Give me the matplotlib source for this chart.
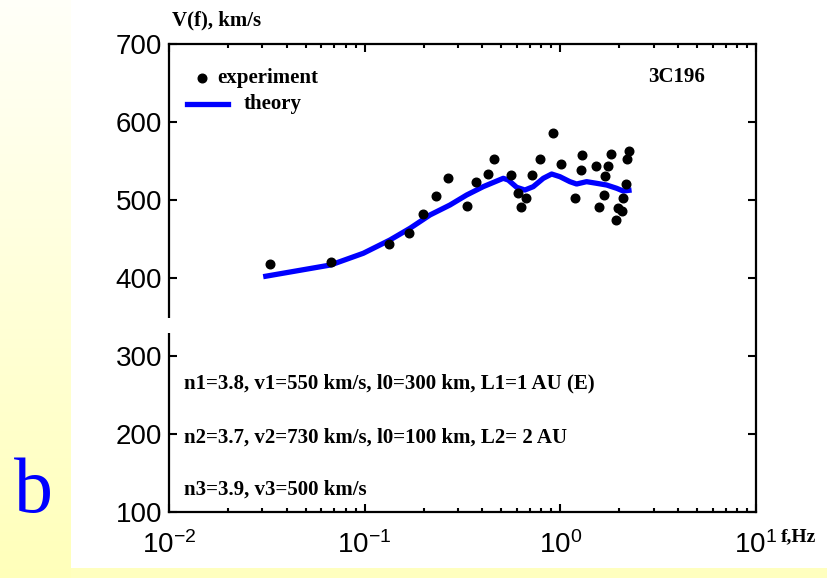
import numpy as np
import matplotlib
matplotlib.use("Agg")
import matplotlib.pyplot as plt
from matplotlib.patches import Rectangle
from matplotlib.lines import Line2D
from matplotlib.ticker import FixedLocator, FuncFormatter, NullFormatter

# ---------------- data ----------------
exp_f = [0.0328, 0.0673, 0.1337, 0.169, 0.1977, 0.2323, 0.2668, 0.334, 0.369,
         0.4246, 0.459, 0.557, 0.605, 0.630, 0.665, 0.718, 0.787, 0.914, 1.007,
         1.191, 1.274, 1.294, 1.514, 1.570, 1.676, 1.690, 1.757, 1.807, 1.923,
         1.963, 2.057, 2.089, 2.157, 2.188, 2.234]
exp_v = [418, 420, 444, 458, 482, 505, 528, 492, 523,
         533, 552, 532, 509, 491, 502, 532, 552, 586, 546,
         503, 538, 558, 544, 491, 506, 531, 544, 559, 475,
         490, 486, 502, 521, 552, 563]

theory_f = [0.0303, 0.0670, 0.0984, 0.1346, 0.1704, 0.2157, 0.2729, 0.332,
            0.4036, 0.5108, 0.542, 0.598, 0.659, 0.727, 0.818, 0.903, 0.995,
            1.119, 1.211, 1.362, 1.532, 1.725, 1.940, 2.096, 2.313]
theory_v = [401.7, 416.7, 431.7, 448.7, 463.7, 480.8, 493.6, 506.4,
            517.1, 527.8, 525.6, 516.3, 512.8, 517.1, 527.8, 533.3, 529.9,
            523.5, 520.5, 523.5, 521.4, 519.2, 515.0, 511.5, 512.8]

y_ticks = [100, 200, 300, 400, 500, 600, 700]
x_ticks = [1e-2, 1e-1, 1e0, 1e1]

annotations = ["n1=3.8, v1=550 km/s, l0=300 km, L1=1 AU (E)",
               "n2=3.7, v2=730 km/s, l0=100 km, L2= 2 AU",
               "n3=3.9, v3=500 km/s"]
source_name = "3C196"

# ---------------- style ----------------
plt.rcParams['font.family'] = ['Liberation Sans', 'DejaVu Sans']
plt.rcParams['mathtext.fontset'] = 'custom'
plt.rcParams['mathtext.rm'] = 'Liberation Sans'
plt.rcParams['mathtext.it'] = 'Liberation Sans:italic'
plt.rcParams['mathtext.bf'] = 'Liberation Sans:bold'

W, H = 827, 578
fig = plt.figure(figsize=(W / 100, H / 100), dpi=100)
fig.patch.set_facecolor('white')

# background decorations (pixel coords)
bg = fig.add_axes([0, 0, 1, 1], zorder=-10)
bg.set_xlim(0, W)
bg.set_ylim(H, 0)
bg.axis('off')
grad = np.linspace(0, 1, 256)[:, None]
top_c = np.array([1.0, 1.0, 0.975])
bot_c = np.array([1.0, 1.0, 0.73])
img = top_c[None, None, :] * (1 - grad[:, :, None]) + bot_c[None, None, :] * grad[:, :, None]
bg.imshow(img, extent=[0, 71, H, 0], aspect='auto', interpolation='bilinear')
bg.add_patch(Rectangle((71, 568), W - 71, 10, color='#FFFFBF', lw=0))
bg.text(33, 512, "b", color='#0000FF', fontsize=56, family='Liberation Serif',
        ha='center', va='baseline')

# main axes
ax = fig.add_axes([169 / W, 1 - 512 / H, (756 - 169) / W, (512 - 44) / H])
ax.set_xscale('log')
ax.set_xlim(1e-2, 1e1)
ax.set_ylim(100, 700)

ax.plot(theory_f, theory_v, color='#0000FF', lw=3.8, solid_capstyle='butt', zorder=3)
ax.plot(exp_f, exp_v, 'o', color='black', ms=6.2, zorder=4)

ax.yaxis.set_major_locator(FixedLocator(y_ticks))
ax.xaxis.set_major_locator(FixedLocator(x_ticks))
minors = [m * d for d in [1e-2, 1e-1, 1e0] for m in range(2, 10)]
ax.xaxis.set_minor_locator(FixedLocator(minors))
ax.xaxis.set_minor_formatter(NullFormatter())
ax.xaxis.set_major_formatter(FuncFormatter(
    lambda v, p: r'$\mathregular{10^{%d}}$' % int(round(np.log10(v)))))
ax.yaxis.set_major_formatter(FuncFormatter(lambda v, p: '%d' % v))

ax.tick_params(which='both', direction='in', top=True, right=True, width=1.5,
               labelsize=20, colors='black')
ax.tick_params(which='major', length=6)
ax.tick_params(which='minor', length=3)
ax.tick_params(axis='y', pad=5)
ax.tick_params(axis='x', pad=13.5)
for s in ax.spines.values():
    s.set_linewidth(1.6)

# broken-axis gap on left spine
ax.add_patch(Rectangle((-0.02, (512 - 333) / 468), 0.04, 15 / 468,
                       transform=ax.transAxes, color='white', clip_on=False,
                       zorder=10, lw=0))

serif = dict(family='Liberation Serif', fontweight='bold', fontsize=15)

# legend (manual, MATLAB style)
ax.add_line(Line2D([(202 - 169) / 587], [(512 - 78) / 468], marker='o', color='black',
                   ms=6.2, transform=ax.transAxes, ls='none'))
ax.text((217 - 169) / 587, (512 - 78) / 468, "experiment", transform=ax.transAxes,
        va='center', ha='left', **serif)
ax.add_line(Line2D([(187 - 169) / 587, (228 - 169) / 587], [(512 - 104) / 468] * 2,
                   color='#0000FF', lw=3.8, transform=ax.transAxes))
ax.text((244 - 169) / 587, (512 - 104) / 468, "theory", transform=ax.transAxes,
        va='center', ha='left', **serif)

ax.text((648 - 169) / 587, (512 - 77) / 468, source_name, transform=ax.transAxes,
        va='center', ha='left', **serif)

for txt, py in zip(annotations, [383, 438, 490]):
    ax.text((184 - 169) / 587, (512 - py) / 468, txt, transform=ax.transAxes,
            va='center', ha='left', **serif)

ax.text((172 - 169) / 587, (512 - 20) / 468, "V(f), km/s", transform=ax.transAxes,
        va='center', ha='left', **serif)
ax.text((781 - 169) / 587, (512 - 537) / 468, "f,Hz", transform=ax.transAxes,
        va='center', ha='left', family='Liberation Serif', fontweight='bold', fontsize=14)

fig.savefig("out.png", dpi=100)
